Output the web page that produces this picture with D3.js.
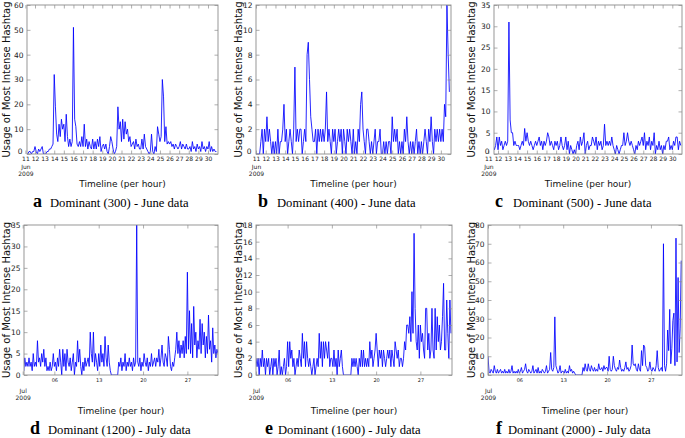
<!DOCTYPE html>
<html><head><meta charset="utf-8">
<script src="https://cdn.jsdelivr.net/npm/d3@7"></script>
<style>html,body{margin:0;padding:0;background:#fff}svg{display:block}</style>
</head><body>
<svg id="chart" width="685" height="438"></svg>
<script>
// ---- data (June panels: 3-hour samples; July panels: 4-hour samples) ----
const seriesA = [
 0,0,0,1,1,0,1,1, 3,1,0,2,1,2,3,0, 0,0,1,1,2,2,3,4, 32,19,8,5,12,7,14,10,
 12,5,16,7,3,6,3,5, 51,14,11,4,3,5,3,7, 3,12,3,6,2,5,3,2, 6,2,5,2,6,3,7,1,
 3,4,2,4,1,0,3,7, 5,2,0,1,3,19,10,13, 5,14,6,13,8,10,5,7, 3,4,5,2,6,3,4,2,
 2,6,2,8,3,2,1,0, 1,8,1,0,3,1,11,8, 5,7,30,23,5,11,4,5, 4,5,3,4,2,4,3,2,
 3,5,2,4,3,2,4,2, 2,3,1,5,2,3,1,4, 2,3,1,5,2,3,1,3, 2,5,1,3,1,2,1,1];
const seriesB = [
 0,0,0,0,1,2,0,2, 1,3,1,2,1,0,1,0, 1,0,2,0,1,1,2,4, 1,2,0,1,2,1,0,2,
 7,1,2,1,2,2,0,1, 2,1,8,9,6,3,2,1, 1,2,0,2,1,2,1,2, 1,2,5,1,2,1,0,2,
 1,2,0,1,2,1,2,0, 2,1,0,2,1,2,1,0, 2,0,1,0,2,1,4,5, 2,1,0,2,2,1,0,1,
 0,1,2,0,1,1,2,0, 0,1,0,1,0,1,1,0, 3,1,2,1,2,0,1,0, 1,0,2,1,3,1,0,1,
 0,1,0,1,2,0,1,0, 1,0,1,2,1,0,2,1, 3,1,0,2,1,2,1,2, 1,2,1,4,3,12,8,5];
const seriesC = [
 2,1,2,4, 1,4,2,3,1,2,3,2, 3,31,8,5,5,2,3,2, 2,2,1,2,3,2,6,3,
 5,3,2,3,2,1,2,3, 2,3,4,2,3,1,3,2, 3,5,4,2,3,2,1,3, 2,3,1,2,4,2,1,2,
 4,1,3,0,2,1,0,1, 0,2,3,1,4,2,3,5, 0,2,3,1,2,2,4,3, 2,4,1,3,2,3,1,2,
 7,2,3,2,3,2,4,2, 1,0,2,1,0,1,2,2, 5,2,3,5,3,2,3,2, 1,0,2,1,3,2,3,4,
 2,5,1,3,2,4,1,3, 2,5,0,2,1,3,1,2, 0,2,1,3,3,4,1,2, 1,3,2,4,4,1,3,2];
const seriesD = [
 3,1,4,2,3,2, 4,2,3,1,5,2, 3,2,8,3,4,2, 5,3,6,2,4,1, 2,1,3,1,2,5, 2,3,1,4,2,6,
 3,0,6,2,5,1, 6,3,2,4,1,3, 5,0,3,2,8,3, 6,2,0,3,1,4, 2,3,4,2,10,5, 3,10,2,5,3,1,
 5,2,7,3,5,2, 9,4,2,7,3,1, 0,0,0,0,0,0, 0,3,2,4,1,3, 2,5,1,3,2,4, 2,3,1,4,2,3,
 35,3,2,4,1,3, 2,5,3,2,4,1, 3,2,5,2,3,4, 2,4,3,6,2,4, 7,3,2,5,4,2, 9,6,2,1,3,2,
 4,6,10,5,8,4, 7,5,8,4,9,5, 24,6,15,5,12,4, 16,7,10,4,8,6, 13,5,12,7,10,4, 9,5,14,6,8,3,
 11,5,7,4,6,5];
const seriesE = [
 2,1,2,0,2,1, 3,1,2,0,2,1, 2,0,1,2,0,2, 1,2,0,1,3,0, 1,0,1,2,0,1, 4,1,4,2,3,1,
 2,0,1,2,1,3, 2,1,5,2,4,1, 4,2,1,2,1,0, 1,2,0,1,2,1, 5,2,4,1,4,2, 4,3,2,4,1,2,
 2,1,3,1,2,0, 3,1,2,3,1,0, 0,0,0,0,0,0, 0,2,1,2,1,2, 1,0,2,1,3,1, 3,1,2,1,2,1,
 4,2,3,1,2,3, 5,3,1,3,2,3, 1,3,2,1,2,3, 2,3,1,3,2,1, 4,3,2,3,1,2, 2,1,2,4,3,6,
 6,5,7,4,10,5, 17,8,4,3,6,2, 6,4,5,3,2,8, 8,3,5,2,3,8, 3,2,8,3,7,4, 6,3,4,7,11,3,
 3,9,5,2,9,5];
const seriesF = [
 10,2,1,3,2,1, 5,2,1,3,1,2, 3,1,2,1,3,1, 2,1,3,1,2,5, 1,2,1,2,1,3, 1,2,4,1,2,3,
 6,2,1,3,2,1, 2,5,1,2,3,1, 4,1,2,1,3,2, 1,2,5,1,2,3, 12,3,2,4,31,5, 3,1,2,5,1,2,
 2,1,3,1,2,1, 5,2,3,1,2,1, 0,0,0,0,0,0, 0,4,2,6,3,2, 6,3,2,5,3,2, 4,2,3,2,6,3,
 3,4,2,5,3,4, 4,2,10,3,2,3, 10,5,3,2,4,3, 8,4,2,3,2,4, 7,3,4,2,3,5, 16,6,5,6,3,2,
 6,3,2,13,5,16, 15,5,4,2,3,7, 3,2,4,3,2,5, 13,4,2,3,4,2, 70,5,2,6,24,13, 35,6,14,29,33,5,
 73,7,52,12,25,61];

const juneTickDays = [11,12,13,14,15,16,17,18,19,20,21,22,23,24,25,26,27,28,29,30];
const julyTickDays = [1,6,13,20,27];
const yTicksA = [0,10,20,30,40,50,60];
const yTicksB = [0,2,4,6,8,10,12];
const yTicksC = [0,5,10,15,20,25,30,35];
const yTicksD = [0,5,10,15,20,25,30,35];
const yTicksE = [0,2,4,6,8,10,12,14,16,18];
const yTicksF = [0,10,20,30,40,50,60,70,80];
const panelLetters = ["a","b","c","d","e","f"];
const captionTexts = ["Dominant (300) - June data","Dominant (400) - June data","Dominant (500) - June data",
  "Dominant (1200) - July data","Dominant (1600) - July data","Dominant (2000) - July data"];
const yAxisTitle = "Usage of Most Intense Hashtag";
const xAxisTitle = "Timeline (per hour)";

// ---- layout ----
const U = (m,d,h)=>new Date(Date.UTC(2009,m,d,h||0));
const panels = [
 {values:seriesA, start:U(5,11,0), step:3, dom:[U(5,11,4),U(6,1,1)], yMax:60, yTicks:yTicksA, june:true,
  box:[27,218,5,154], ylabX:6, capX:[33,50]},
 {values:seriesB, start:U(5,11,0), step:3, dom:[U(5,11,0),U(6,1,1)], yMax:12, yTicks:yTicksB, june:true,
  box:[256,451,5,154], ylabX:238, capX:[258,277]},
 {values:seriesC, start:U(5,11,12), step:3, dom:[U(5,11,14),U(6,1,0)], yMax:35, yTicks:yTicksC, june:true,
  box:[494,682,5,154], ylabX:471, capX:[495,513]},
 {values:seriesD, start:U(6,1,0), step:4, dom:[U(6,1,5),U(6,31,20)], yMax:35, yTicks:yTicksD, june:false,
  box:[24,218,225,375], ylabX:6, capX:[30,48]},
 {values:seriesE, start:U(6,1,0), step:4, dom:[U(6,1,0),U(7,1,0)], yMax:18, yTicks:yTicksE, june:false,
  box:[256,452,225,375], ylabX:238, capX:[265,278]},
 {values:seriesF, start:U(6,1,0), step:4, dom:[U(6,1,0),U(6,31,23)], yMax:80, yTicks:yTicksF, june:false,
  box:[488,682,225,375], ylabX:471, capX:[496,508]}
];

const svg = d3.select("#chart");
const SANS = "DejaVu Sans, sans-serif";
const SERIF = "Liberation Serif, Times New Roman, serif";
const FRAME = "#8c8c8c";

panels.forEach((p,i)=>{
  const [l,r,t,b] = p.box;
  const g = svg.append("g");
  const x = d3.scaleUtc().domain(p.dom).range([l,r]);
  const y = d3.scaleLinear().domain([0,p.yMax]).range([b,t]);
  const pts = p.values.map((v,k)=>({t:new Date(p.start.getTime()+k*p.step*3600e3), v}));

  const cid = "clip"+i;
  g.append("clipPath").attr("id",cid).append("rect").attr("x",l).attr("y",t-1).attr("width",r-l).attr("height",b-t+1);
  g.append("path").datum(pts).attr("clip-path",`url(#${cid})`)
    .attr("d", d3.line().x(d=>x(d.t)).y(d=>y(d.v)))
    .attr("fill","none").attr("stroke","#0000ff").attr("stroke-width",0.85).attr("stroke-linejoin","miter");

  const tickDates = p.june ? juneTickDays.map(d=>U(5,d)) : julyTickDays.map(d=>U(6,d));
  const fmt = p.june ? (d=>String(d.getUTCDate())) : (d=>d.getUTCDate()===1 ? "" : d3.utcFormat("%d")(d));

  const xb = g.append("g").attr("transform",`translate(0,${b})`)
    .call(d3.axisBottom(x).tickValues(tickDates).tickFormat(fmt).tickSizeInner(-3.5).tickSizeOuter(0).tickPadding(3));
  xb.attr("font-family",SANS).attr("font-size", p.june?6:5);
  const xt = g.append("g").attr("transform",`translate(0,${t})`)
    .call(d3.axisTop(x).tickValues(tickDates).tickFormat("").tickSizeInner(-3.5).tickSizeOuter(0));
  const yl = g.append("g").attr("transform",`translate(${l},0)`)
    .call(d3.axisLeft(y).tickValues(p.yTicks).tickSizeInner(-3.5).tickSizeOuter(0).tickPadding(3.5));
  yl.attr("font-family",SANS).attr("font-size",7.5);
  const yr = g.append("g").attr("transform",`translate(${r},0)`)
    .call(d3.axisRight(y).tickValues(p.yTicks).tickFormat("").tickSizeInner(-3.5).tickSizeOuter(0));
  [xb,xt,yl,yr].forEach(a=>{a.select(".domain").remove(); a.selectAll(".tick line").attr("stroke",FRAME).attr("stroke-width",0.7); a.selectAll("text").attr("fill","#222");});
  // the zero label sits in the corner next to the first date label: lift it slightly
  if (p.june) yl.selectAll(".tick").filter(d=>d===0).select("text").attr("dy","-0.05em").attr("x",-4.5);

  // month / year sub-labels on first tick
  const first = xb.select(".tick");
  const sub = p.june ? [["Jun",14.5],["2009",22]] : [["Jul",18],["2009",25]];
  sub.forEach(([s,dy])=>first.append("text").attr("y",dy).attr("text-anchor","middle")
     .attr("fill","#222").attr("font-size",6).text(s));

  g.append("rect").attr("x",l).attr("y",t).attr("width",r-l).attr("height",b-t)
    .attr("fill","none").attr("stroke",FRAME).attr("stroke-width",0.9);

  // axis titles
  const rowTop = p.june;
  g.append("text").attr("x",(l+r)/2).attr("y", rowTop?186.5:413.5).attr("text-anchor","middle")
    .attr("font-family",SANS).attr("font-size",9).attr("fill","#111").text(xAxisTitle);
  g.append("text").attr("transform",`translate(${p.ylabX+3.6},${(t+b)/2}) rotate(-90)`).attr("text-anchor","middle")
    .attr("font-family",SANS).attr("font-size",10).attr("fill","#111").text(yAxisTitle);

  // caption
  const capY = rowTop?207:433.5;
  g.append("text").attr("x",p.capX[0]).attr("y",capY).attr("font-family",SERIF).attr("font-weight","bold")
    .attr("font-size",18).attr("fill","#000").text(panelLetters[i]);
  g.append("text").attr("x",p.capX[1]).attr("y",capY).attr("font-family",SERIF)
    .attr("font-size",12.6).attr("fill","#000").text(captionTexts[i]);
});
</script>
</body></html>
